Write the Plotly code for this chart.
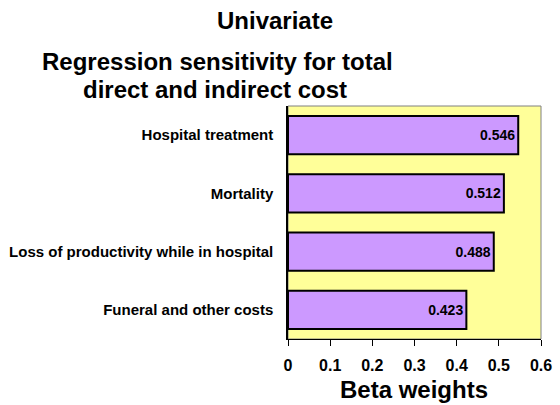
import plotly.graph_objects as go

categories = ["Funeral and other costs", "Loss of productivity while in hospital", "Mortality", "Hospital treatment"]
beta_weights = [0.423, 0.488, 0.512, 0.546]
value_labels = ["0.423", "0.488", "0.512", "0.546"]
x_ticks = [0, 0.1, 0.2, 0.3, 0.4, 0.5, 0.6]
x_tick_labels = ["0", "0.1", "0.2", "0.3", "0.4", "0.5", "0.6"]
x_title = "Beta weights"

FONT = "Arial, Liberation Sans, sans-serif"

fig = go.Figure()
fig.add_trace(go.Bar(
    y=categories, x=beta_weights, orientation="h",
    marker=dict(color="#CC99FF", line=dict(color="black", width=2)),
    text=value_labels, textposition="inside", insidetextanchor="end",
    textfont=dict(family=FONT, size=14, color="black", weight="bold"),
    constraintext="none", cliponaxis=False,
))

fig.update_layout(
    width=560, height=405,
    margin=dict(l=288, r=19, t=106, b=66, autoexpand=False),
    paper_bgcolor="white", plot_bgcolor="#FFFF99",
    bargap=0.34, showlegend=False,
    xaxis=dict(range=[0, 0.6], tickvals=x_ticks, ticktext=x_tick_labels,
               ticks="outside", ticklen=6, tickcolor="black", tickwidth=1,
               showline=True, linecolor="black", linewidth=1, showgrid=False,
               zeroline=False, ticklabelstandoff=6,
               tickfont=dict(family=FONT, size=16, color="black", weight="bold")),
    yaxis=dict(showline=True, linecolor="black", linewidth=1.5, showgrid=False,
               ticks="outside", ticklen=10, tickcolor="rgba(0,0,0,0)",
               tickfont=dict(family=FONT, size=15, color="black", weight="bold")),
    font=dict(family=FONT, color="black"),
)

fig.add_shape(type="rect", xref="paper", yref="paper", x0=0, x1=1, y0=0, y1=1,
              line=dict(color="#808080", width=1), layer="below")

title_font = dict(family=FONT, size=24, color="black", weight="bold")
fig.add_annotation(text="Univariate", xref="paper", yref="paper", x=(275 - 288) / 253, y=1 + (106 - 21) / 233,
                   showarrow=False, font=title_font, xanchor="center", yanchor="middle")
fig.add_annotation(text="Regression sensitivity for total", xref="paper", yref="paper",
                   x=(217 - 288) / 253, y=1 + (106 - 62) / 233, showarrow=False, font=title_font,
                   xanchor="center", yanchor="middle")
fig.add_annotation(text="direct and indirect cost", xref="paper", yref="paper",
                   x=(215 - 288) / 253, y=1 + (106 - 89) / 233, showarrow=False, font=title_font,
                   xanchor="center", yanchor="middle")
fig.add_annotation(text=x_title, xref="paper", yref="paper",
                   x=(414 - 288) / 253, y=-(389 - 339) / 233, showarrow=False,
                   font=dict(family=FONT, size=24, color="black", weight="bold"),
                   xanchor="center", yanchor="middle")

fig.write_html("out.html", config={"displayModeBar": False},
               post_script="document.body.style.margin='0';")
